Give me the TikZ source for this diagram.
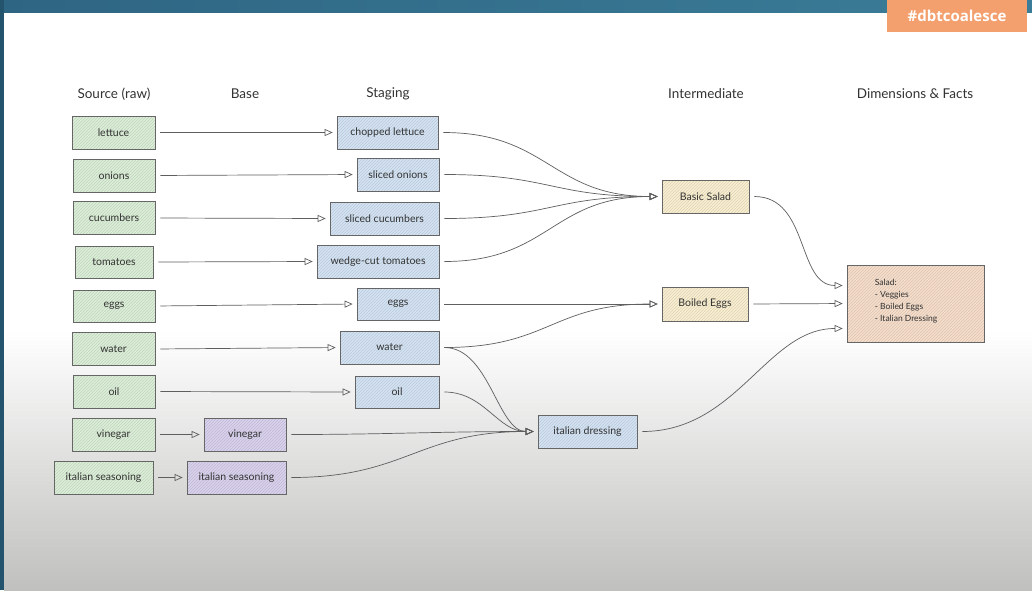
\documentclass[tikz,border=0pt]{standalone}
\usepackage{fontspec}
\setmainfont{Lato}
\newfontfamily\tagfont{Open Sans}
\usetikzlibrary{arrows.meta,patterns}
\definecolor{topblueA}{HTML}{2E6583}
\definecolor{topblueB}{HTML}{3B7D98}
\definecolor{leftblue}{HTML}{24536E}
\definecolor{bggray}{HTML}{C0C0BE}
\definecolor{tagorange}{HTML}{F3A06E}
\definecolor{fgreen}{HTML}{DCEFD8}
\definecolor{fblue}{HTML}{D4E4F4}
\definecolor{fpurple}{HTML}{DAD2EE}
\definecolor{fyellow}{HTML}{FAEFD0}
\definecolor{fpeach}{HTML}{F7DFCB}
\definecolor{edge}{HTML}{666666}
\definecolor{ink}{HTML}{333333}
\definecolor{wire}{HTML}{5E5E5E}
\tikzset{
  hbox/.style={draw=edge, line width=0.7pt, minimum height=33pt, inner sep=2pt,
    preaction={fill=#1}, pattern=north east lines, pattern color=#1!88!black,
    text=ink, font=\fontsize{10.5}{12}\selectfont},
  srcbox/.style={hbox=fgreen},
  basebox/.style={hbox=fpurple},
  stgbox/.style={hbox=fblue},
  intbox/.style={hbox=fyellow},
  dimbox/.style={hbox=fpeach},
  header/.style={text=ink, font=\fontsize{13.5}{16}\selectfont},
  conn/.style={draw=wire, line width=0.7pt, shorten <=5pt, shorten >=4pt,
    -{Triangle[open,length=8pt,width=7pt]}},
}
\begin{document}
\begin{tikzpicture}[x=1pt,y=-1pt]
\useasboundingbox (0,0) rectangle (1032,590);
% background
\shade[left color=topblueA, right color=topblueB] (0,0) rectangle (1032,13);
\fill[white] (4,13) rectangle (1032,330);
\shade[top color=white, bottom color=bggray] (4,330) rectangle (1032,590);
\fill[leftblue] (0,0) rectangle (4,590);
\node[fill=tagorange, minimum width=140pt, minimum height=32pt, text=white,
  font=\tagfont\bfseries\fontsize{15}{18}\selectfont] (tag) at (957,16) {\#dbtcoalesce};

% headers
\node[header] (h1) at (114,94) {Source (raw)};
\node[header] (h2) at (245,94) {Base};
\node[header] (h3) at (388,94) {Staging};
\node[header] (h4) at (706,94) {Intermediate};
\node[header] (h5) at (915,94) {Dimensions \& Facts};

% source
\node[srcbox, minimum width=83pt] (rl) at (113.5,132.5) {lettuce};
\node[srcbox, minimum width=82pt] (ro) at (114,175.5) {onions};
\node[srcbox, minimum width=82pt] (rc) at (114,218) {cucumbers};
\node[srcbox, minimum width=78pt, minimum height=32pt] (rt) at (114,262) {tomatoes};
\node[srcbox, minimum width=82pt, minimum height=32pt] (re) at (114,306) {eggs};
\node[srcbox, minimum width=83pt] (rw) at (113.5,349) {water};
\node[srcbox, minimum width=82pt] (roil) at (114,391.5) {oil};
\node[srcbox, minimum width=83pt] (rv) at (113.5,434.5) {vinegar};
\node[srcbox, minimum width=99pt] (ris) at (103.5,477.5) {italian seasoning};

% base
\node[basebox, minimum width=82pt] (bv) at (245,434.5) {vinegar};
\node[basebox, minimum width=99pt] (bis) at (236.5,477.5) {italian seasoning};

% staging
\node[stgbox, minimum width=101pt] (sl) at (387.5,132.5) {chopped lettuce};
\node[stgbox, minimum width=82pt] (so) at (398,174.5) {sliced onions};
\node[stgbox, minimum width=109pt] (sc) at (384.5,218.5) {sliced cucumbers};
\node[stgbox, minimum width=122pt] (st) at (378,261.5) {wedge-cut tomatoes};
\node[stgbox, minimum width=82pt, minimum height=32pt] (se) at (398,304) {eggs};
\node[stgbox, minimum width=99pt] (sw) at (389.5,347.5) {water};
\node[stgbox, minimum width=84pt, minimum height=32pt] (soil) at (397,392) {oil};

% intermediate
\node[intbox, minimum width=87pt] (bs) at (705.5,196.5) {Basic Salad};
\node[intbox, minimum width=86pt, minimum height=34pt] (be) at (705,304) {Boiled Eggs};
\node[stgbox, minimum width=99pt] (id) at (587.5,431.5) {italian dressing};

% dimensions
\node[dimbox, minimum width=137pt, minimum height=77pt] (dim) at (915.5,303.5) {};
\node[anchor=north west, align=left, inner sep=0pt, text=ink,
  font=\fontsize{8.5}{12}\selectfont] (dimtxt) at ([xshift=28pt,yshift=-14pt]dim.north west)
  {Salad:\\- Veggies\\- Boiled Eggs\\- Italian Dressing};

% straight source -> staging/base
\foreach \a/\b in {rl/sl, ro/so, rc/sc, rt/st, re/se, rw/sw, roil/soil, rv/bv, ris/bis}
  \draw[conn] (\a.east) -- (\b.west);

% staging -> basic salad
\foreach \a in {sl, so, sc, st}
  \draw[conn] (\a.east) .. controls +(110,0) and +(-110,0) .. (bs.west);

% boiled eggs
\draw[conn] (se.east) -- (be.west);
\draw[conn] (sw.east) .. controls +(110,0) and +(-110,0) .. (be.west);

% italian dressing
\draw[conn] (sw.east) .. controls +(50,0) and +(-40,0) .. (id.west);
\draw[conn] (soil.east) .. controls +(45,0) and +(-40,0) .. (id.west);
\draw[conn] (bv.east) .. controls +(100,0) and +(-100,0) .. (id.west);
\draw[conn] (bis.east) .. controls +(120,0) and +(-120,0) .. (id.west);

% to dimensions
\draw[conn] (bs.east) .. controls +(60,0) and +(-50,0) .. ([yshift=18pt]dim.west);
\draw[conn] (be.east) -- (dim.west);
\draw[conn] (id.east) .. controls +(100,0) and +(-80,0) .. ([yshift=-25pt]dim.west);
\end{tikzpicture}
\end{document}
